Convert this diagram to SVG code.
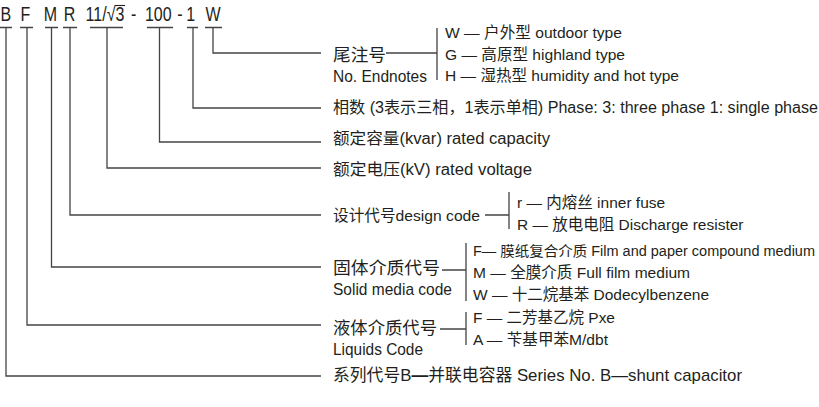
<svg xmlns="http://www.w3.org/2000/svg" width="819" height="407" viewBox="0 0 819 407">
<style>
.ln{stroke:#444;stroke-width:1.3;fill:none}
.t{font-family:"Liberation Sans","Noto Sans CJK SC",sans-serif;fill:#231f20}
.hd{font-size:20px}
.big{font-size:17px}
.mid{font-size:16px}
.sm{font-size:15.5px}
</style>
<rect width="819" height="407" fill="#fff"/>
<g id="code" class="t hd" transform="scale(0.8,1)">
<text x="0.6" y="21">B</text>
<text x="25.5" y="21">F</text>
<text x="54.7" y="21">M</text>
<text x="79.6" y="21">R</text>
<text x="107" y="21">11/√3</text>
<text x="163.7" y="21">-</text>
<text x="181.2" y="21">100</text>
<text x="221.6" y="21">-</text>
<text x="232.9" y="21">1</text>
<text x="256.9" y="21">W</text>
</g>
<path d="M115,5.5H125" stroke="#231f20" stroke-width="1.1" fill="none"/>
<g id="connectors">
<path class="ln" d="M0,27.5H12M20,27.5H33M45,27.5H58M63,27.5H77M90,27.5H123M147,27.5H173M187,27.5H198M205,27.5H222"/>
<path class="ln" d="M6,27.5V376H321"/>
<path class="ln" d="M27,27.5V325H321"/>
<path class="ln" d="M51.5,27.5V267H321"/>
<path class="ln" d="M70,27.5V215H321"/>
<path class="ln" d="M107,27.5V168H321"/>
<path class="ln" d="M159.5,27.5V142H321"/>
<path class="ln" d="M193,27.5V108H321"/>
<path class="ln" d="M213,27.5V53H321"/>
<path class="ln" d="M386,53H437M437,28V80"/>
<path class="ln" d="M485,215H509M509,192V229"/>
<path class="ln" d="M442,270H466M466,243V301"/>
<path class="ln" d="M440,329H466M466,312V345"/>
</g>
<g id="endnotes" class="t">
<text class="big" x="333" y="61" textLength="53" lengthAdjust="spacingAndGlyphs">尾注号</text>
<text class="big" x="333" y="82" textLength="94" lengthAdjust="spacingAndGlyphs">No. Endnotes</text>
<text class="sm" x="445" y="38" textLength="177" lengthAdjust="spacingAndGlyphs">W — 户外型 outdoor type</text>
<text class="sm" x="445" y="60" textLength="180" lengthAdjust="spacingAndGlyphs">G — 高原型 highland type</text>
<text class="sm" x="445" y="81" textLength="234" lengthAdjust="spacingAndGlyphs">H — 湿热型 humidity and hot type</text>
</g>
<g id="phase" class="t">
<text class="mid" x="333" y="113" textLength="485" lengthAdjust="spacingAndGlyphs">相数 (3表示三相，1表示单相) Phase: 3: three phase 1: single phase</text>
</g>
<g id="capacity" class="t">
<text class="mid" x="333" y="144" textLength="217" lengthAdjust="spacingAndGlyphs">额定容量(kvar) rated capacity</text>
</g>
<g id="voltage" class="t">
<text class="mid" x="333" y="175" textLength="199" lengthAdjust="spacingAndGlyphs">额定电压(kV) rated voltage</text>
</g>
<g id="design" class="t">
<text class="sm" x="333" y="221" textLength="147" lengthAdjust="spacingAndGlyphs">设计代号design code</text>
<text class="sm" x="517" y="208">r — 内熔丝 inner fuse</text>
<text class="sm" x="517" y="230">R — 放电电阻 Discharge resister</text>
</g>
<g id="solid" class="t">
<text class="big" x="333" y="274" textLength="107" lengthAdjust="spacingAndGlyphs">固体介质代号</text>
<text class="big" x="333" y="295" textLength="119" lengthAdjust="spacingAndGlyphs">Solid media code</text>
<text x="473" y="256" font-size="14" textLength="342" lengthAdjust="spacingAndGlyphs">F— 膜纸复合介质 Film and paper compound medium</text>
<text class="sm" x="473" y="278" textLength="217" lengthAdjust="spacingAndGlyphs">M — 全膜介质 Full film medium</text>
<text class="sm" x="473" y="300">W — 十二烷基苯 Dodecylbenzene</text>
</g>
<g id="liquid" class="t">
<text class="big" x="333" y="334" textLength="104" lengthAdjust="spacingAndGlyphs">液体介质代号</text>
<text class="big" x="333" y="355" textLength="90" lengthAdjust="spacingAndGlyphs">Liquids Code</text>
<text class="sm" x="473" y="323" textLength="142" lengthAdjust="spacingAndGlyphs">F — 二芳基乙烷 Pxe</text>
<text class="sm" x="473" y="345" textLength="135" lengthAdjust="spacingAndGlyphs">A — 苄基甲苯M/dbt</text>
</g>
<g id="series" class="t">
<text class="big" x="333" y="381" textLength="409" lengthAdjust="spacingAndGlyphs">系列代号B<tspan font-weight="bold">—</tspan>并联电容器 Series No. B—shunt capacitor</text>
</g>
</svg>
